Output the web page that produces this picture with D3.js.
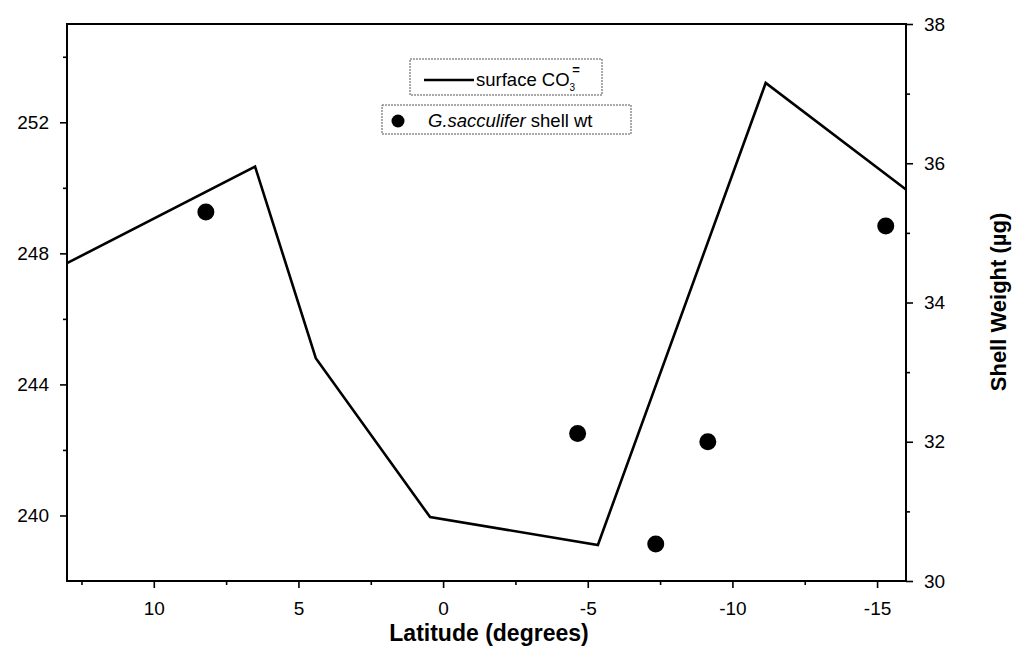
<!DOCTYPE html>
<html>
<head>
<meta charset="utf-8">
<script src="https://cdn.jsdelivr.net/npm/d3@7"></script>
<style>
  body { margin: 0; background: #fff; }
  svg { display: block; font-family: "Liberation Sans", Arial, sans-serif; }
</style>
</head>
<body>
<svg id="chart" width="1016" height="659"></svg>
<script>
// Surface carbonate ion concentration along the transect (left axis)
const co3Lat = [13.0, 6.5, 4.4, 0.45, -5.35, -11.15, -16.0];
const co3Val = [247.7, 250.65, 244.8, 239.95, 239.1, 253.2, 249.95];

// G. sacculifer shell weight (right axis, µg)
const wtLat = [8.2, -4.65, -7.35, -9.15, -15.3];
const wtVal = [35.3, 32.12, 30.53, 32.0, 35.1];

const xTicks = [10, 5, 0, -5, -10, -15];
const xMinorTicks = [12.5, 7.5, 2.5, -2.5, -7.5, -12.5];
const yLeftTicks = [240, 244, 248, 252];
const yLeftMinor = [242, 246, 250, 254];
const yRightTicks = [30, 32, 34, 36, 38];
const yRightMinor = [31, 33, 35, 37];

const svg = d3.select("#chart");
const L = 67, R = 906, T = 24, B = 581;

const x = d3.scaleLinear().domain([13, -16]).range([L, R]);
const yL = d3.scaleLinear().domain([238, 255]).range([B, T]);
const yR = d3.scaleLinear().domain([30, 38]).range([B, T]);

const plain = d => String(d);

// plot frame
svg.append("rect")
  .attr("x", L).attr("y", T).attr("width", R - L).attr("height", B - T)
  .attr("fill", "none").attr("stroke", "#000").attr("stroke-width", 2);

function styleAxis(g) {
  g.select(".domain").remove();
  g.selectAll(".tick line").attr("stroke", "#000").attr("stroke-width", 1.6);
  g.selectAll(".tick text").attr("font-size", 19).attr("fill", "#000")
    .attr("font-family", "Liberation Sans, Arial, sans-serif");
}

// bottom axis
svg.append("g").attr("transform", `translate(0,${B})`)
  .call(d3.axisBottom(x).tickValues(xTicks).tickSize(7).tickPadding(14).tickFormat(plain))
  .call(styleAxis);
svg.append("g").attr("transform", `translate(0,${B})`)
  .call(d3.axisBottom(x).tickValues(xMinorTicks).tickSize(4).tickFormat(""))
  .call(styleAxis);

// left axis
svg.append("g").attr("transform", `translate(${L},0)`)
  .call(d3.axisLeft(yL).tickValues(yLeftTicks).tickSize(7).tickPadding(11).tickFormat(plain))
  .call(styleAxis);
svg.append("g").attr("transform", `translate(${L},0)`)
  .call(d3.axisLeft(yL).tickValues(yLeftMinor).tickSize(4).tickFormat(""))
  .call(styleAxis);

// right axis
svg.append("g").attr("transform", `translate(${R},0)`)
  .call(d3.axisRight(yR).tickValues(yRightTicks).tickSize(7).tickPadding(11).tickFormat(plain))
  .call(styleAxis);
svg.append("g").attr("transform", `translate(${R},0)`)
  .call(d3.axisRight(yR).tickValues(yRightMinor).tickSize(4).tickFormat(""))
  .call(styleAxis);

// axis titles
svg.append("text")
  .attr("x", 489).attr("y", 641)
  .attr("text-anchor", "middle")
  .attr("font-size", 23).attr("font-weight", "bold")
  .text("Latitude (degrees)");

svg.append("text")
  .attr("transform", "translate(1006,302) rotate(-90)")
  .attr("text-anchor", "middle")
  .attr("font-size", 22).attr("font-weight", "bold")
  .text("Shell Weight (µg)");

// carbonate line
const co3 = co3Lat.map((d, i) => [d, co3Val[i]]);
svg.append("path")
  .datum(co3)
  .attr("fill", "none").attr("stroke", "#000").attr("stroke-width", 2.6)
  .attr("stroke-linejoin", "miter")
  .attr("d", d3.line().x(d => x(d[0])).y(d => yL(d[1])));

// shell weight points
svg.append("g").selectAll("circle")
  .data(wtLat.map((d, i) => [d, wtVal[i]]))
  .join("circle")
  .attr("cx", d => x(d[0])).attr("cy", d => yR(d[1]))
  .attr("r", 8.5).attr("fill", "#000");

// legends
const lg1 = svg.append("g");
lg1.append("rect").attr("x", 410).attr("y", 59).attr("width", 192).attr("height", 36)
  .attr("fill", "#fff").attr("stroke", "#555").attr("stroke-width", 1)
  .attr("stroke-dasharray", "2,1");
lg1.append("line").attr("x1", 424).attr("x2", 474).attr("y1", 80).attr("y2", 80)
  .attr("stroke", "#000").attr("stroke-width", 2.6);
const t1 = lg1.append("text").attr("x", 476).attr("y", 86).attr("font-size", 18.5);
t1.append("tspan").text("surface CO");
t1.append("tspan").attr("font-size", 10).attr("dy", 5).text("3");
t1.append("tspan").attr("font-size", 13).attr("font-weight", "bold").attr("dy", -17).attr("dx", -3).text("=");

const lg2 = svg.append("g");
lg2.append("rect").attr("x", 382).attr("y", 105).attr("width", 249).attr("height", 29)
  .attr("fill", "#fff").attr("stroke", "#555").attr("stroke-width", 1)
  .attr("stroke-dasharray", "2,1");
lg2.append("circle").attr("cx", 398).attr("cy", 121).attr("r", 6.5).attr("fill", "#000");
const t2 = lg2.append("text").attr("x", 428).attr("y", 127).attr("font-size", 18.5);
t2.append("tspan").attr("font-style", "italic").text("G.sacculifer");
t2.append("tspan").text(" shell wt");
</script>
</body>
</html>
